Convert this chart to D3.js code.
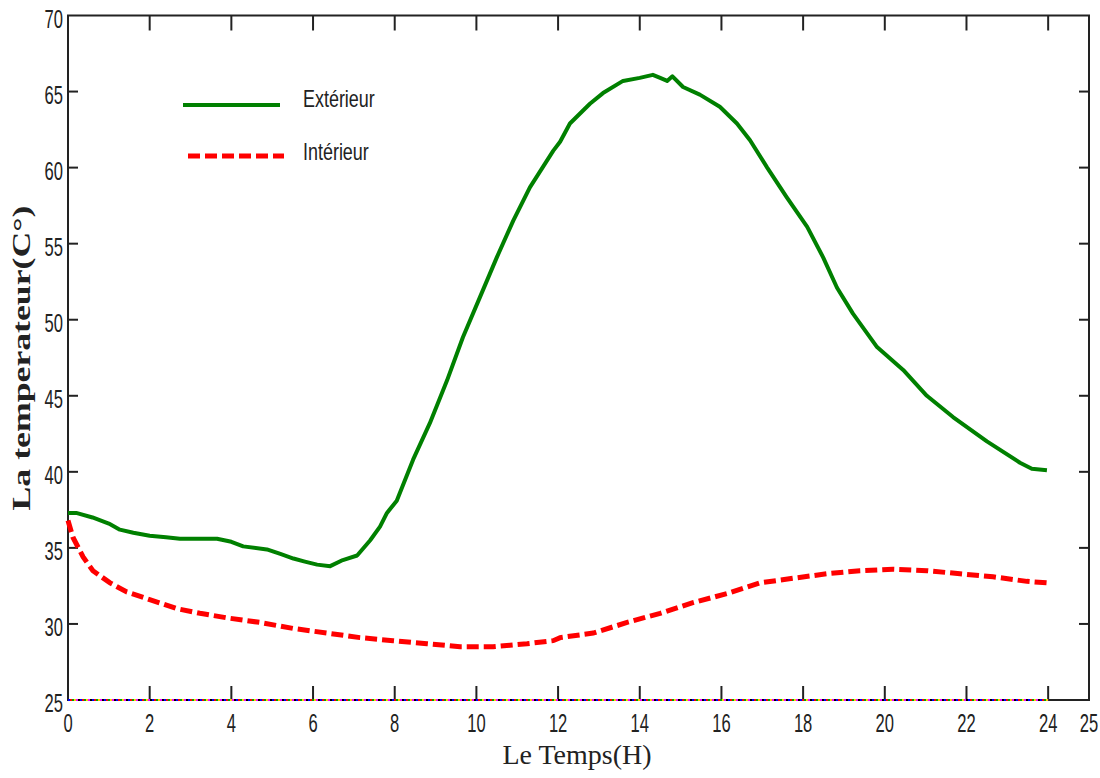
<!DOCTYPE html>
<html><head><meta charset="utf-8">
<script src="https://cdn.jsdelivr.net/npm/d3@7/dist/d3.min.js"></script>
<style>body{margin:0;background:#fff}</style>
</head><body>
<script>
// ---- data ----
const extHours = [0,0.2,0.6,1.0,1.27,1.6,2.0,2.4,2.74,3.2,3.65,4.0,4.29,4.87,5.2,5.52,5.8,6.1,6.42,6.73,7.08,7.4,7.64,7.81,8.05,8.45,8.86,9.28,9.67,10.09,10.5,10.9,11.31,11.88,12.05,12.29,12.78,13.1,13.59,14.0,14.32,14.5,14.67,14.8,15.06,15.47,15.96,16.38,16.7,17.12,17.6,18.1,18.49,18.83,19.22,19.81,20.45,21.03,21.67,22.5,23.31,23.6,23.97];
const extTemp  = [37.3,37.3,37.0,36.6,36.2,36.0,35.8,35.7,35.6,35.6,35.6,35.4,35.1,34.9,34.6,34.3,34.1,33.9,33.8,34.2,34.5,35.5,36.4,37.3,38.1,40.8,43.2,46.0,48.85,51.5,54.1,56.5,58.7,61.1,61.7,62.9,64.2,64.9,65.7,65.9,66.1,65.9,65.7,66.0,65.3,64.8,64.0,62.9,61.8,60.0,58.05,56.1,54.1,52.1,50.4,48.2,46.7,45.0,43.6,42.0,40.6,40.2,40.1];
const intHours = [0,0.12,0.37,0.61,1.03,1.44,2.0,2.67,3.23,3.89,4.7,5.52,6.34,7.15,7.96,8.79,9.6,10.41,10.82,11.24,11.88,12.05,12.86,13.69,14.5,15.3,16.14,16.94,17.75,18.58,19.39,20.2,21.03,21.84,22.65,23.48,23.97];
const intTemp  = [36.8,35.7,34.4,33.5,32.7,32.1,31.6,31.0,30.7,30.4,30.1,29.7,29.4,29.1,28.9,28.7,28.5,28.5,28.6,28.7,28.9,29.1,29.4,30.1,30.7,31.4,32.0,32.7,33.0,33.3,33.5,33.6,33.5,33.3,33.1,32.8,32.7];
const xTicks = [0,2,4,6,8,10,12,14,16,18,20,22,24,25];
const yTicks = [25,30,35,40,45,50,55,60,65,70];
const seriesNames = ["Extérieur","Intérieur"];
const seriesColors = ["#008000","#ff0000"];

const W = 1100, H = 778;
const m = {left:68, right:1089, top:15.5, bottom:700};
const svg = d3.select("body").append("svg").attr("width",W).attr("height",H)
  .style("font-family","'Liberation Sans',Arial,sans-serif");

const x = d3.scaleLinear().domain([0,25]).range([m.left,m.right]);
const y = d3.scaleLinear().domain([25,70]).range([m.bottom,m.top]);

const axisColor = "#222";
// frame
svg.append("rect").attr("x",m.left).attr("y",m.top).attr("width",m.right-m.left).attr("height",m.bottom-m.top)
  .attr("fill","none").attr("stroke",axisColor).attr("stroke-width",2);

// ticks (inward)
xTicks.filter(d=>d>0 && d<25).forEach(d=>{
  svg.append("line").attr("x1",x(d)).attr("x2",x(d)).attr("y1",m.bottom).attr("y2",m.bottom-14).attr("stroke",axisColor).attr("stroke-width",2);
  svg.append("line").attr("x1",x(d)).attr("x2",x(d)).attr("y1",m.top).attr("y2",m.top+15).attr("stroke",axisColor).attr("stroke-width",2);
});
yTicks.filter(d=>d>25 && d<70).forEach(d=>{
  svg.append("line").attr("x1",m.left).attr("x2",m.left+10).attr("y1",y(d)).attr("y2",y(d)).attr("stroke",axisColor).attr("stroke-width",2);
  svg.append("line").attr("x1",m.right).attr("x2",m.right-10).attr("y1",y(d)).attr("y2",y(d)).attr("stroke",axisColor).attr("stroke-width",2);
});

// tick labels (condensed look)
svg.append("g").selectAll("text").data(xTicks).join("text")
  .attr("transform",d=>`translate(${x(d)},${m.bottom+32}) scale(0.72,1.12)`).attr("text-anchor","middle")
  .attr("font-size",23).attr("fill","#222").text(d=>d);
svg.append("g").selectAll("text").data(yTicks).join("text")
  .attr("transform",d=>`translate(${m.left-5},${y(d)+12}) scale(0.72,1.12)`).attr("text-anchor","end")
  .attr("font-size",23).attr("fill","#222").text(d=>d);

// colorful dotted overlay on bottom axis (0..24)
const dotCols = ["#0000ff","#ff0000","#00aa00","#ffcc00","#ff00ff","#000000"];
dotCols.forEach((c,i)=>{
  svg.append("line").attr("x1",x(0)).attr("x2",x(24)).attr("y1",m.bottom).attr("y2",m.bottom)
    .attr("stroke",c).attr("stroke-width",2).attr("stroke-dasharray","2,10").attr("stroke-dashoffset",-2*i);
});

// lines
const line = d3.line().x(d=>x(d[0])).y(d=>y(d[1]));
svg.append("path").datum(extHours.map((h,i)=>[h,extTemp[i]]))
  .attr("d",line).attr("fill","none").attr("stroke",seriesColors[0]).attr("stroke-width",4).attr("stroke-linejoin","round");
svg.append("path").datum(intHours.map((h,i)=>[h,intTemp[i]]))
  .attr("d",line).attr("fill","none").attr("stroke",seriesColors[1]).attr("stroke-width",5).attr("stroke-dasharray","12,5");

// legend
const leg = [{y:105,ty:107},{y:156,ty:160}];
seriesNames.forEach((n,i)=>{
  svg.append("line").attr("x1",i?188:183).attr("x2",i?284:280).attr("y1",leg[i].y).attr("y2",leg[i].y)
    .attr("stroke",seriesColors[i]).attr("stroke-width",i?5:4).attr("stroke-dasharray",i?"12,5":null);
  svg.append("text").attr("transform",`translate(303,${leg[i].ty}) scale(0.78,1.05)`)
    .attr("font-size",23).attr("fill","#222").text(n);
});

// axis titles
svg.append("text").attr("x",577).attr("y",764).attr("text-anchor","middle")
  .attr("font-family","'Liberation Serif','Times New Roman',serif").attr("font-size",28).attr("fill","#222").text("Le Temps(H)");
svg.append("text").attr("transform","translate(30,358) rotate(-90)").attr("text-anchor","middle")
  .attr("font-family","'Liberation Serif','Times New Roman',serif").attr("font-weight","bold")
  .attr("font-size",26).attr("textLength",305).attr("lengthAdjust","spacingAndGlyphs")
  .attr("fill","#222").text("La temperateur(C°)");
</script>
</body></html>
